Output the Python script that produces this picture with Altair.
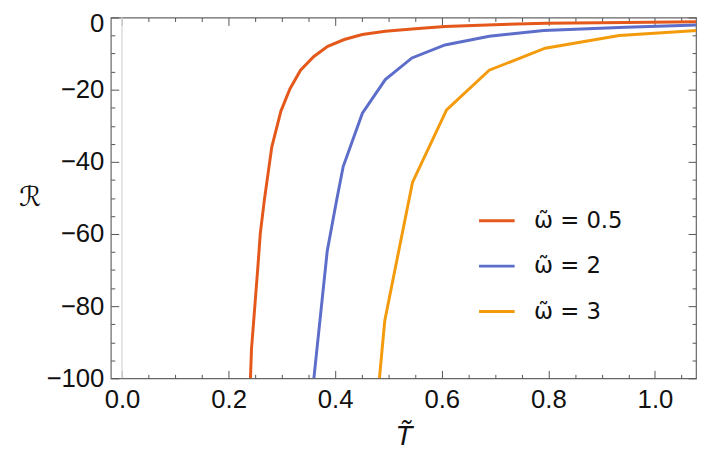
import altair as alt
import pandas as pd

# ---------------- data ----------------
labels = ["ω̃ = 0.5", "ω̃ = 2", "ω̃ = 3"]
colors = ["#E4591B", "#5D6DCA", "#F39B0C"]

T_05 = [0.241, 0.243, 0.255, 0.2595, 0.267, 0.281, 0.298, 0.315, 0.335, 0.360,
        0.386, 0.417, 0.451, 0.494, 0.550, 0.606, 0.698, 0.796, 0.945, 1.08]
R_05 = [-100, -91.8, -69.0, -59.8, -50.7, -35.9, -26.0, -19.8, -14.6, -10.8,
        -8.0, -6.1, -4.7, -3.8, -3.1, -2.5, -2.0, -1.6, -1.4, -1.2]

T_2 = [0.360, 0.385, 0.4026, 0.415, 0.451, 0.494, 0.544, 0.606, 0.689, 0.791, 0.945, 1.08]
R_2 = [-100, -64.8, -50.7, -41.3, -26.5, -17.2, -11.2, -7.6, -5.2, -3.6, -2.7, -2.1]

T_3 = [0.483, 0.493, 0.545, 0.609, 0.689, 0.794, 0.933, 1.08]
R_3 = [-100, -84.0, -45.7, -25.6, -14.6, -8.5, -5.0, -3.6]

x_major = [0.0, 0.2, 0.4, 0.6, 0.8, 1.0]
x_minor = [0.05, 0.1, 0.15, 0.25, 0.3, 0.35, 0.45, 0.5, 0.55,
           0.65, 0.7, 0.75, 0.85, 0.9, 0.95, 1.05]
y_major = [0, -20, -40, -60, -80, -100]
y_minor = [-5, -10, -15, -25, -30, -35, -45, -50, -55, -65, -70, -75,
           -85, -90, -95]
zero_line = [0.0]

# ---------------- build table ----------------
frames = []
for lab, T, R in zip(labels, [T_05, T_2, T_3], [R_05, R_2, R_3]):
    frames.append(pd.DataFrame({"T": T, "R": R, "series": lab}))
df = pd.concat(frames, ignore_index=True)

FONT = "Liberation Sans"
x_scale = alt.Scale(domain=[-0.021, 1.077], nice=False, zero=False)
y_scale = alt.Scale(domain=[-100, 0], nice=False, zero=False)


def blank_axis(orient, values, size):
    # ticks drawn outward from an axis shifted inward -> inward-pointing ticks
    return alt.Axis(orient=orient, values=values, labels=False, domain=False,
                    grid=False, ticks=True, tickSize=size, offset=-size,
                    tickColor="#555555", tickWidth=1, title=None)


color = alt.Color("series:N",
                  scale=alt.Scale(domain=labels, range=colors),
                  legend=alt.Legend(orient="none", legendX=371, legendY=186,
                                    title=None, symbolType="stroke",
                                    symbolSize=1296, symbolStrokeWidth=3,
                                    labelFont="DejaVu Sans", labelFontSize=23,
                                    labelColor="#111111", labelOffset=18,
                                    rowPadding=14, padding=0))

lines = alt.Chart(df).mark_line(strokeWidth=3, clip=True).encode(
    x=alt.X("T:Q", scale=x_scale,
            axis=alt.Axis(orient="bottom", values=x_major, format=".1f",
                          ticks=False, domain=False, grid=False,
                          labelFont=FONT, labelFontSize=26, labelColor="#111111",
                          labelPadding=9, title="T̃", titleFont=FONT,
                          titleFontSize=28, titleFontStyle="italic",
                          titleFontWeight="normal", titlePadding=10,
                          titleColor="#111111")),
    y=alt.Y("R:Q", scale=y_scale,
            axis=alt.Axis(orient="left", values=y_major, ticks=False,
                          domain=False, grid=False, labelFont=FONT,
                          labelFontSize=26, labelColor="#111111",
                          labelPadding=7,
                          labelOffset={"condition": {"test": "datum.value === 0",
                                                     "value": 6},
                                       "value": 0},
                          title="ℛ", titleFont="DejaVu Sans",
                          titleFontSize=28, titleFontWeight="normal",
                          titleAngle=0, titleX=-82, titleY=182,
                          titleAlign="center", titleBaseline="middle",
                          titleColor="#111111")),
    color=color,
)

zero = alt.Chart(pd.DataFrame({"x0": zero_line})).mark_rule(
    color="#dddddd", strokeWidth=1.5).encode(
    x=alt.X("x0:Q", scale=x_scale, axis=None))


def tick_layer(xo, xv, xs, yo, yv, ys):
    return alt.Chart(df).mark_point(opacity=0).encode(
        x=alt.X("T:Q", scale=x_scale, axis=blank_axis(xo, xv, xs)),
        y=alt.Y("R:Q", scale=y_scale, axis=blank_axis(yo, yv, ys)),
    )


t1 = tick_layer("bottom", x_major, 8, "left", y_major, 8)
t2 = tick_layer("bottom", x_minor, 4, "left", y_minor, 4)
t3 = tick_layer("top", x_major, 8, "right", y_major, 8)
t4 = tick_layer("top", x_minor, 4, "right", y_minor, 4)

chart = alt.layer(zero, t1, t2, t3, t4, lines).resolve_axis(
    x="independent", y="independent"
).properties(
    width=592, height=365,
    autosize=alt.AutoSizeParams(type="none"),
    padding={"left": 104, "top": 7, "right": 2, "bottom": 80},
).configure_view(stroke="#666666", strokeWidth=1.2)

chart.save("out.html", embed_options={"renderer": "svg", "actions": False})
